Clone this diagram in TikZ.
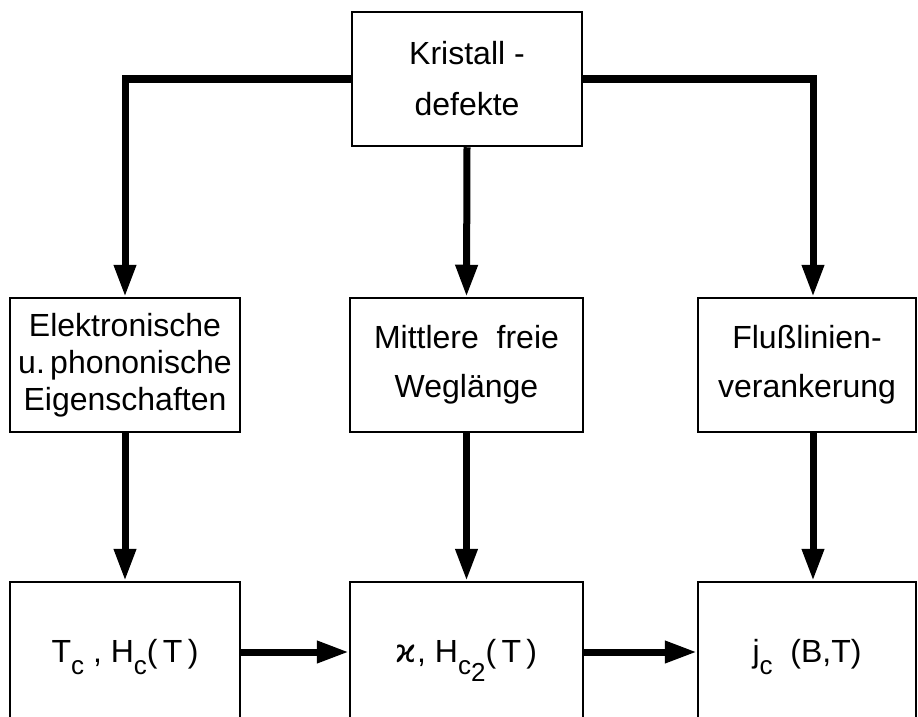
\documentclass[tikz,border=0pt]{standalone}
\usepackage{fontspec}
\setmainfont{Liberation Sans}
\newfontfamily\dejavu{DejaVu Sans}
\usepackage{tikz}
\usetikzlibrary{positioning, arrows.meta}

\newcommand{\tief}[1]{\raisebox{-0.38em}{\fontsize{26}{26}\selectfont #1}}

\begin{document}
\begin{tikzpicture}[x=1pt, y=-1pt, line join=miter,
                    font=\fontsize{32}{37}\selectfont,
                    box/.style={draw, line width=2.5pt, align=center,
                                minimum height=134pt, inner sep=0pt},
                    unten/.style={box, minimum height=140pt,
                                  text height=24pt, text depth=4pt},
                    pfeil/.style={-{Triangle[length=32pt, width=21pt]},
                                  line width=7pt}]
    \useasboundingbox (0,0) rectangle (918,717);
    \node[box, minimum width=230pt] (kd) at (467,79) {Kristall -\\[14pt]defekte};
    \node[box, minimum width=230pt] (el) at (125,365)
      {Elektronische\\u.\,phononische\\Eigenschaften};
    \node[box, minimum width=233pt] (mf) at (466.5,365)
      {Mittlere\ \ freie\\[12pt]Weglänge};
    \node[box, minimum width=218pt] (fl) at (807,365)
      {Flußlinien-\\[12pt]verankerung};
    \node[unten, minimum width=230pt] (tc) at (125,652)
      {T\tief{c} , H\tief{c}(\,T\,)};
    \node[unten, minimum width=233pt] (ka) at (466.5,652)
      {{\dejavu ϰ}, H\tief{c\raisebox{-0.3em}{2}}(\,T\,)};
    \node[unten, minimum width=218pt] (jc) at (807,652)
      {j\tief{c}\ \ (B,T)};
    \draw[pfeil] (kd.west) -| (el.north);
    \draw[pfeil] (kd.east) -| ([xshift=6pt]fl.north);
    \path[pfeil]
      (kd.south) edge (mf.north)
      (el) edge (tc)
      (mf) edge (ka)
      ([xshift=6pt]fl.south) edge ([xshift=6pt]jc.north)
      (tc) edge (ka)
      (ka) edge (jc);
  \end{tikzpicture}
\end{document}
